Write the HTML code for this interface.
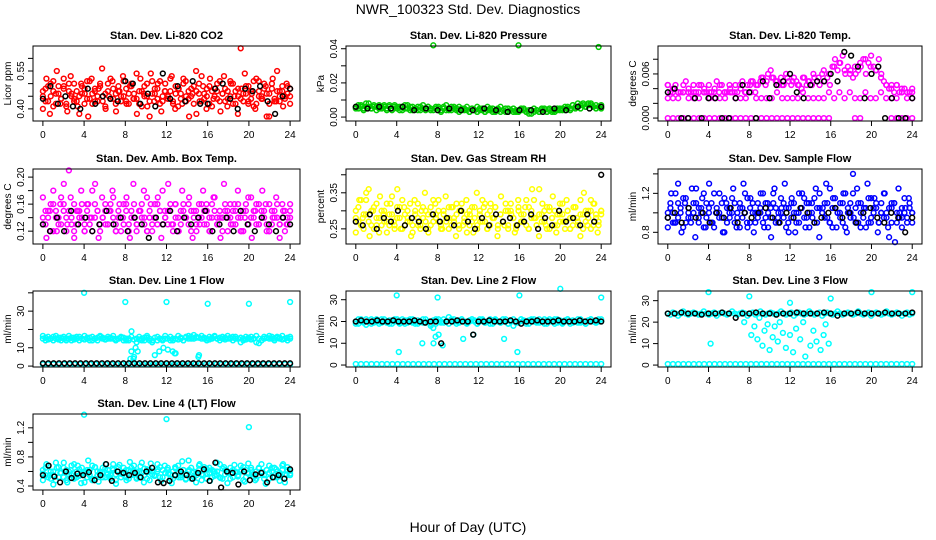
<!DOCTYPE html>
<html><head><meta charset="utf-8">
<style>
html,body{margin:0;padding:0;background:#fff;}
svg{display:block;font-family:"Liberation Sans",Arial,sans-serif;}
</style></head>
<body>
<svg id="chart" width="936" height="540" viewBox="0 0 936 540" xmlns="http://www.w3.org/2000/svg">
<rect width="936" height="540" fill="#fff"/>
<text x="468" y="14" font-size="14" text-anchor="middle">NWR_100323  Std. Dev. Diagnostics</text>
<text x="468" y="532" font-size="14" text-anchor="middle">Hour of Day (UTC)</text>
</svg>
<script>
// ---------------- data ----------------
const xTicks=[0,4,8,12,16,20,24];
const co2Main=[.45,.48,.43,.50,.41,.46,.49,.44,.52,.42,.47,.45,.50,.43,.38,.46,.48,.44,.51,.42,.47,.45,.49,.43,.46,.50,.44,.48,.42,.47,.45,.51,.43,.46,.49,.44,.54,.42,.47,.45,.50,.37,.46,.48,.44,.51,.43,.47,.45,.52,.42,.46,.48,.44,.50,.43,.47,.45,.49,.38,.46,.53,.44,.48,.42,.47,.45,.50,.43,.46,.48,.44,.51,.42,.47,.45,.64,.43,.46,.49,.44,.51,.42,.47,.45,.50,.37,.46,.48,.44,.55,.43,.47,.45,.49,.42];
const co2Second=[.47,.43,.49,.45,.51,.42,.46,.44,.48,.41,.50,.46,.43,.47,.45,.49,.42,.51,.44,.46,.48,.43,.50,.45,.41,.47,.52,.44,.46,.49,.43,.45,.48,.42,.50,.46,.44,.47,.41,.49,.45,.43,.51,.46,.48,.42,.45,.50,.44,.47,.43,.49,.41,.46,.52,.45,.44,.48,.42,.47,.50,.43,.46,.45,.49,.41,.48,.44,.51,.46,.43,.47,.45,.50,.42,.48,.44,.46,.49,.43,.47,.41,.52,.45,.44,.48,.46,.42,.50,.43,.47,.45,.49,.44,.46,.48];
const co2Third=[.40,.52,.38,.47,.55,.42,.49,.39,.53,.44,.41,.50,.46,.37,.52,.43,.48,.56,.40,.45,.51,.39,.47,.53,.42,.49,.44,.38,.52,.46,.41,.54,.43,.50,.39,.47,.45,.53,.40,.48,.42,.51,.37,.46,.55,.43,.49,.40,.52,.44,.47,.39,.53,.41,.50,.45,.38,.48,.54,.42,.46,.40,.51,.44,.49,.37,.52,.43,.47,.41,.50,.45];
const co2Black=[.44,.49,.42,.45,.41,.40,.48,.42,.45,.44,.43,.51,.50,.42,.46,.41,.54,.44,.49,.43,.51,.42,.42,.48,.50,.44,.40,.48,.47,.49,.43,.38,.45,.48];
const presMain=[.006,.005,.007,.004,.006,.008,.005,.006,.004,.007,.005,.006,.005,.007,.004,.006,.005,.006,.004,.007,.005,.006,.004,.005,.006,.004,.007,.005,.006,.004,.042,.005,.006,.004,.005,.007,.004,.006,.005,.004,.006,.005,.004,.006,.003,.005,.004,.006,.004,.005,.003,.006,.004,.005,.003,.004,.006,.004,.005,.003,.004,.005,.003,.042,.004,.005,.003,.004,.002,.005,.004,.003,.005,.004,.003,.005,.004,.003,.004,.005,.004,.006,.005,.004,.007,.006,.008,.005,.007,.006,.008,.007,.006,.005,.041,.007];
const presSecond=[.005,.007,.006,.005,.008,.006,.005,.007,.006,.005,.006,.007,.004,.006,.005,.007,.006,.004,.006,.005,.007,.004,.006,.005,.004,.006,.005,.004,.006,.005,.004,.006,.005,.003,.006,.004,.005,.004,.006,.005,.003,.004,.005,.004,.003,.005,.004,.003,.005,.004,.003,.004,.005,.003,.004,.005,.003,.004,.003,.005,.004,.003,.004,.003,.005,.004,.003,.002,.004,.003,.004,.003,.004,.005,.003,.004,.003,.004,.005,.004,.005,.004,.006,.005,.007,.005,.006,.007,.008,.006,.007,.008,.006,.007,.006,.005];
const presBlack=[.006,.005,.006,.005,.006,.004,.005,.004,.005,.004,.004,.005,.004,.003,.004,.004,.003,.005,.004,.006,.005,.006];
const tempZero=[0,0,0,0,0,0,0,0,0,0,0,0,0,0,0,0,0,0,0,0,0,0,0,0,0,0,0,0,0,0,0,0,null,null,null,null,0,0,null,null,null,null,null,0,0,0,0,0];
const tempLow=[.0027,.0027,.0027,.0035,.0027,.0027,.0027,.0035,.0027,.0027,.0027,.0027,.0035,.0027,.0027,.0027,.0035,.0027,.0027,.0027,.0027,.0035,.0027,.0027,.0027,.0027,.0035,.0027,.0027,.0027,.0027,.0035,.0027,.0035,.0027,.0035,.0027,.0027,.0035,.0027,.0027,.0035,.0027,.0027,.0027,.0035,.0027,.0027];
const tempHigh=[.0045,.0035,.0035,.0045,.0035,.0035,.0035,.0050,.0035,.0035,.0045,.0035,.0035,.0045,.0035,.0035,.0045,.0035,.0035,.0050,.0035,.0045,.0035,.0035,.0045,.0035,.0035,.0035,.0045,.0050,.0035,.0045,.0045,.0050,.0035,.0045,.0050,.0055,.0045,.0060,.0065,.0055,.0050,.0045,.0055,.0045,.0060,.0050,.0045,.0055,.0050,.0045,.0040,.0055,.0045,.0050,.0045,.0055,.0050,.0045,.0060,.0050,.0055,.0045,.0070,.0080,.0065,.0075,.0085,.0060,.0070,.0065,.0055,.0060,.0065,.0070,.0080,.0060,.0075,.0085,.0070,.0065,.0080,.0060,.0050,.0045,.0040,.0045,.0035,.0045,.0035,.0035,.0040,.0035,.0035,.0035];
const tempMid=[.0045,.0040,.0035,.0045,.0040,.0035,.0045,.0040,.0035,.0040,.0045,.0035,.0040,.0045,.0040,.0035,.0050,.0045,.0055,.0050,.0055,.0050,.0045,.0055,.0050,.0045,.0055,.0050,.0060,.0055,.0065,.0060,.0070,.0075,.0065,.0060,.0070,.0075,.0080,.0070,.0065,.0055,.0045,.0040,.0045,.0040,.0035,.0040];
const tempBlack=[.0035,.0040,0,0,.0027,0,.0027,.0027,0,0,.0027,.0045,.0035,0,.0050,.0027,.0045,.0050,.0060,.0035,.0027,.0045,.0050,.0050,.0060,.0050,.0090,.0085,.0070,.0027,.0060,.0070,0,.0027,0,0,.0027];
const ambMain=[.14,.13,.15,.12,.16,.14,.13,.17,.15,.12,.21,.14,.16,.13,.15,.14,.12,.16,.13,.18,.14,.15,.12,.14,.16,.13,.15,.17,.13,.14,.12,.16,.15,.13,.14,.16,.12,.15,.14,.13,.17,.14,.12,.16,.13,.15,.18,.14,.13,.15,.12,.16,.14,.13,.15,.14,.16,.12,.15,.13,.14,.16,.13,.15,.12,.14,.17,.13,.15,.14,.16,.12,.14,.15,.13,.16,.14,.12,.15,.13,.17,.14,.16,.13,.15,.14,.12,.16,.13,.15,.14,.13,.16,.12,.14,.15];
const ambSecond=[.13,.15,.14,.16,.12,.15,.14,.13,.16,.14,.15,.13,.12,.15,.14,.16,.13,.15,.14,.12,.16,.15,.13,.14,.15,.13,.16,.14,.12,.15,.14,.13,.16,.12,.15,.14,.13,.15,.16,.14,.12,.15,.13,.14,.16,.15,.13,.14,.15,.16,.13,.14,.12,.15,.16,.14,.13,.15,.14,.12,.16,.14,.15,.13,.14,.16,.15,.13,.14,.12,.15,.14,.16,.13,.15,.14,.12,.15,.16,.13,.14,.15,.13,.16,.14,.15,.13,.12,.15,.14,.16,.13,.14,.15,.13,.14];
const ambThird=[.17,.11,.15,.18,.12,.16,.19,.13,.17,.11,.15,.18,.12,.16,.14,.19,.11,.17,.13,.15,.18,.12,.16,.14,.17,.11,.19,.13,.15,.18,.12,.16,.14,.17,.11,.15,.19,.13,.16,.12,.18,.14,.17,.11,.15,.13,.18,.16,.12,.17,.14,.11,.19,.15,.13,.16,.18,.12,.14,.17,.11,.15,.13,.18,.16,.12,.14,.17,.11,.15,.13,.16];
const ambBlack=[.13,.12,.14,.12,.15,.13,.14,.12,.13,.15,.13,.14,.12,.14,.13,.11,.14,.13,.15,.12,.14,.13,.14,.15,.12,.13,.14,.12,.15,.13,.12,.14,.13,.12,.14,.13];
const rhMain=[.30,.27,.33,.25,.29,.36,.26,.31,.28,.24,.30,.27,.32,.26,.29,.25,.31,.28,.33,.26,.30,.27,.24,.29,.32,.26,.28,.30,.25,.31,.27,.29,.33,.26,.30,.28,.25,.31,.27,.29,.26,.32,.28,.24,.30,.27,.31,.26,.29,.33,.27,.25,.30,.28,.31,.26,.29,.27,.32,.25,.30,.28,.26,.31,.29,.27,.33,.25,.30,.28,.26,.36,.29,.27,.31,.25,.28,.30,.26,.32,.29,.27,.30,.25,.28,.31,.26,.33,.29,.27,.30,.25,.32,.28,.26,.30];
const rhSecond=[.28,.31,.26,.29,.33,.27,.30,.25,.32,.28,.26,.30,.27,.29,.34,.26,.28,.31,.25,.29,.27,.32,.26,.30,.28,.25,.31,.27,.29,.26,.33,.28,.30,.25,.29,.27,.31,.26,.28,.32,.25,.30,.27,.29,.26,.31,.28,.25,.30,.27,.32,.29,.26,.28,.31,.25,.29,.27,.30,.26,.32,.28,.25,.30,.27,.29,.26,.31,.28,.33,.26,.29,.27,.30,.25,.31,.28,.26,.29,.27,.32,.25,.30,.28,.26,.31,.27,.29,.25,.30,.28,.33,.26,.29,.27,.30];
const rhThird=[.24,.33,.28,.35,.23,.30,.26,.34,.29,.24,.32,.27,.36,.25,.31,.28,.23,.33,.26,.30,.35,.24,.29,.32,.27,.25,.34,.28,.31,.23,.30,.26,.33,.29,.24,.35,.27,.31,.25,.32,.28,.23,.34,.26,.30,.29,.24,.33,.27,.31,.25,.36,.28,.23,.32,.26,.30,.34,.24,.29,.27,.33,.25,.31,.28,.23,.35,.26,.30,.32,.24,.29];
const rhBlack=[.27,.26,.29,.25,.28,.27,.30,.26,.28,.27,.25,.29,.27,.28,.26,.30,.27,.25,.28,.26,.29,.27,.28,.26,.27,.29,.25,.28,.26,.30,.27,.28,.26,.29,.27,.40];
const flowMain=[1.0,1.1,.9,1.2,.95,1.05,.85,1.15,1.0,.9,1.1,1.25,.95,1.0,.85,1.1,1.05,.9,1.2,1.0,.95,1.1,.8,1.05,1.0,1.15,.9,1.0,1.1,.95,1.2,.85,1.05,1.0,.9,1.1,1.0,1.2,.95,.85,1.05,1.1,.9,1.0,1.15,.95,1.05,.8,1.1,1.0,.9,1.2,1.05,.95,1.1,.85,1.0,1.15,.9,1.05,1.0,1.1,.95,1.25,.85,1.05,1.0,1.1,.9,1.2,1.0,.95,1.4,1.05,.9,1.1,1.0,.85,1.15,.95,1.05,1.1,.9,1.0,1.2,.95,.75,1.05,1.1,.9,1.0,.85,1.15,.95,1.05,1.0];
const flowSecond=[.95,1.05,1.0,.9,1.1,1.0,1.15,.9,1.05,.95,1.0,1.1,.9,1.05,1.2,.95,1.0,1.1,.85,1.05,1.0,.95,1.15,.9,1.05,1.0,1.1,.95,.85,1.05,1.0,1.15,.9,1.1,1.0,.95,1.05,.9,1.1,1.0,.95,1.2,1.05,.9,1.0,1.1,.85,1.05,.95,1.1,1.0,.9,1.05,1.15,.95,1.0,1.1,.9,1.05,1.2,1.0,.95,1.1,.9,1.05,1.15,1.0,.95,1.1,.85,1.05,1.0,1.2,.9,1.1,1.0,.95,1.05,.9,1.15,1.0,1.05,.9,1.1,.95,1.0,1.05,.9,1.1,1.0,.95,1.05,1.0,.9,1.1,1.0];
const flowThird=[.85,1.2,.9,1.3,.8,1.1,.95,1.25,.75,1.05,1.15,.85,1.3,.9,1.0,1.2,.8,1.1,.95,1.25,.85,1.05,1.3,.9,1.15,.8,1.0,1.2,.85,1.1,.75,1.25,.95,1.05,1.3,.9,1.15,.8,1.0,1.2,.85,1.1,.95,1.25,.75,1.05,1.3,.9,1.15,.85,1.0,1.2,.8,1.1,.95,1.25,.85,1.05,1.3,.9,1.15,.8,1.0,1.2,.85,1.1,.7,1.25,.95,1.05,1.15,.9];
const flowBlack=[.95,1.0,.9,1.05,.95,1.0,.9,1.0,.95,1.05,.9,1.0,.95,1.0,1.05,.95,.9,1.0,.95,1.05,1.0,.9,.95,1.0,1.05,.95,1.0,.9,1.0,1.05,.95,.9,1.0,.95,.8,.95];
const line1Main=[15,15.5,14.5,15,16,15,14.5,15.5,15,14,15,15.5,14.5,15,16,15,14.5,15,15.5,14,15,15.5,16,15,14.5,15,15.5,15,14.5,15,15.5,14,15,14,8,5,13,14.5,15,14,15.5,14,13,6,14,15,14.5,15,9,14,15,7,14.5,15,14,15.5,15,16,15,15.5,6,15,15.5,15,14.5,15,16,15,15.5,15,14.5,15,15.5,16,15,15,15.5,15,16,15,14.5,15,13,12.5,14,15,15.5,15,16,15,15.5,15,14.5,15,15.5,15];
const line1Second=[16.5,14,16,15,14,16.5,15.5,14,16,15,16.5,14,15.5,16,14,15,16.5,15.5,14,16,15,14,16.5,15.5,14.5,16,15,16.5,14,15,16,15.5,14,15,16,14.5,15,16,14,15.5,16.5,15,14,15.5,16,15,14,16.5,15,16,14,15,16.5,15.5,14,16,16.5,15,17,16,15.5,16.5,15,14,16,15.5,16.5,15,14,16,15.5,16.5,15,14,16,15,13,14,14.5,15.5,16,15,16.5,15,14,16,15.5,16.5,15,14,16,15.5,16.5,15,14,16];
const line1OutHours=[4,8,12,16,20,24,8.6,9,9.2,11.3,11.7,12.6,12.8,15.1,8.5,8.8];
const line1OutVals=[40,35,35,34,34,35,19,10,8,8,10,8,7,5,4,4];
const line1Low=[1,1,1,1,1,1,1,1,1,1,1,1,1,1,1,1,1,1,1,1,1,1,1,1,1,1,1,1,1,1,1,1,1,1,1,1,1,1,1,1,1,1,1,1,1,1,1,1];
const line1Black=[1.5,1.5,1.5,1.5,1.5,1.5,1.5,1.5,1.5,1.5,1.5,1.5,1.5,1.5,1.5,1.5,1.5,1.5,1.5,1.5,1.5,1.5,1.5,1.5,1.5,1.5,1.5,1.5,1.5,1.5,1.5,1.5,1.5,1.5,1.5,1.5,1.5,1.5,1.5,1.5,1.5,1.5,1.5,1.5,1.5,1.5,1.5];
const line2Main=[20,19,21,20,18.5,20,21,19.5,20,19,21,20,19.5,20.5,19,20,21,19.5,20,19,20.5,21,19.5,20,19,20,21,19.5,20,18,17,19,21,20,19.5,20,22,21,20,19,20.5,21,20,19.5,20,21,20.5,19,20,21,19.5,20,19,20.5,21,20,19.5,20,21,19,20,18,19.5,20,21,20.5,20,19,20.5,21,20,19.5,20,21,19,20,20.5,21,19.5,20,19,20.5,21,20,19.5,20,21,19.5,20,19,20.5,21,20,19.5,20,21];
const line2Second=[19,21,20,19.5,21,20,19,20.5,21,20,19.5,21,20,19,20.5,21,20,19,21,20.5,19.5,20,21,19,20.5,20,19.5,21,20,19,20.5,21,20,19.5,21,20,19,20.5,21,20,19.5,21,20,19,20.5,21,20,19,21,20.5,19.5,20,21,19,20.5,20,19.5,21,20,19,20.5,21,20,19.5,21,20,19,20.5,21,20,19.5,21,20,19,20.5,21,20,19,21,20.5,19.5,20,21,19,20.5,20,19.5,21,20,19,20.5,21,20,19.5,21,20];
const line2OutHours=[4,8,16,20,24,7.6,7.8,8.1,8.5,10.5,11.5,14.5,15.8,4.2,6.5];
const line2OutVals=[32,31,32,35,31,10,13,14,9,12,14,12,6,6,10];
const line2Low=[.5,.5,.5,.5,.5,.5,.5,.5,.5,.5,.5,.5,.5,.5,.5,.5,.5,.5,.5,.5,.5,.5,.5,.5,.5,.5,.5,.5,.5,.5,.5,.5,.5,.5,.5,.5,.5,.5,.5,.5,.5,.5,.5,.5,.5,.5,.5,.5];
const line2Black=[20,20.5,20,20,20.5,20,20,20.5,20,20,20,20.5,20,19.5,20,20,10,20,20,20.5,20,20,14,20,20,20.5,20,20,20,20.5,20,19,20,20,20.5,20,20,20,20.5,20,20,20,20.5,20,20,20.5,20];
const line3Main=[24,23.5,24.5,24,23,24,25,24,23.5,24,24.5,24,23.5,24,25,24,23.5,24,24.5,23,24,24.5,24,23.5,24,25,24,23.5,24,24.5,24,23,24,24.5,23.5,24,25,24,23.5,24,24.5,24,23.5,24,25,24,23.5,24,24.5,23,24,24.5,24,23.5,24,25,24,23.5,24,24.5,23,24,24.5,24,23.5,24,25,24,23.5,24,24.5,24,23.5,24,25,24,23.5,24,24.5,23,24,24.5,24,23.5,24,25,24,23.5,24,24.5,24,23,24,24.5,23.5,24];
const line3OutHours=[4.2,7.5,8.2,8.5,8.8,9,9.3,9.5,9.8,10,10.3,10.5,10.8,11,11.3,11.6,12,12.3,12.6,13,13.3,13.5,14,14.3,14.6,15,15.3,15.5,15.8,4,20,24,8,12,16];
const line3OutVals=[10,20,14,18,12,22,9,16,19,7,13,18,11,20,15,8,14,6,17,12,20,4,9,16,11,7,14,19,10,34,34,34,32,29,31];
const line3Low=[.5,.5,.5,.5,.5,.5,.5,.5,.5,.5,.5,.5,.5,.5,.5,.5,.5,.5,.5,.5,.5,.5,.5,.5,.5,.5,.5,.5,.5,.5,.5,.5,.5,.5,.5,.5,.5,.5,.5,.5,.5,.5,.5,.5,.5,.5,.5,.5];
const line3Black=[24,24,24.5,24,24,23.5,24,24,24.5,24,22,24,24,24.5,24,24,23.5,24,24,24.5,24,24,24,24.5,24,23,24,24,24.5,24,24,24,24.5,24,24,24,24.5];
const line4Main=[.62,.55,.68,.50,.60,.72,.52,.58,.65,.48,.60,.55,.70,.52,.63,.57,.45,.62,.55,.68,.50,.60,.58,.65,.52,.62,.55,.70,.48,.60,.57,.65,.52,.62,.55,.68,.50,.60,.72,.55,.63,.48,.60,.55,.70,.52,.62,.58,.65,.50,.60,.55,.68,.52,.62,.57,.75,.50,.60,.55,.68,.48,.62,.57,.65,.52,.60,.55,.70,.50,.62,.58,.65,.52,.60,.55,.68,.48,.62,.57,.65,.52,.60,.55,.70,.50,.62,.58,.65,.52,.60,.55,.68,.45,.62,.57];
const line4Second=[.57,.65,.52,.60,.55,.48,.66,.58,.52,.62,.56,.68,.50,.60,.54,.65,.58,.52,.62,.48,.66,.55,.60,.52,.64,.57,.50,.62,.56,.66,.52,.58,.62,.50,.65,.56,.60,.52,.58,.64,.50,.62,.56,.54,.60,.66,.52,.58,.62,.56,.50,.64,.58,.55,.62,.50,.60,.65,.52,.58,.62,.56,.66,.50,.58,.62,.54,.60,.52,.64,.56,.60,.50,.62,.58,.54,.60,.66,.52,.58,.62,.56,.50,.64,.58,.55,.62,.50,.60,.65,.52,.58,.62,.56,.66,.55];
const line4Third=[.48,.70,.55,.42,.65,.58,.72,.45,.62,.52,.68,.44,.60,.75,.50,.66,.46,.58,.70,.53,.64,.43,.69,.56,.48,.73,.61,.51,.67,.45,.59,.71,.54,.63,.47,.68,.57,.44,.66,.52,.74,.49,.62,.58,.45,.70,.55,.64,.47,.60,.72,.51,.66,.44,.58,.69,.53,.62,.46,.71,.56,.48,.65,.59,.43,.68,.52,.63,.47,.70,.55,.61];
const line4OutHours=[4,12,20];
const line4OutVals=[1.38,1.32,1.21];
const line4Black=[.55,.68,.53,.45,.60,.51,.57,.55,.59,.48,.55,.70,.47,.60,.58,.55,.58,.52,.60,.65,.45,.44,.47,.55,.60,.55,.50,.58,.63,.47,.72,.38,.60,.58,.42,.60,.48,.56,.58,.45,.52,.55,.50,.63];

const panels=[
 {key:'co2',title:'Stan. Dev. Li-820 CO2',ylab:'Licor ppm',col:0,row:0,ymin:.352,ymax:.649,ticks:[.40,.45,.50,.55,.60],labels:['0.40','','','0.55',''],
  series:[{v:co2Main,c:'#ff0000'},{v:co2Second,c:'#ff0000'},{v:co2Third,c:'#ff0000'},{v:co2Black,c:'#000'}]},
 {key:'pressure',title:'Stan. Dev. Li-820 Pressure',ylab:'kPa',col:1,row:0,ymin:-.0023,ymax:.0416,ticks:[0,.01,.02,.03,.04],labels:['0.00','','0.02','','0.04'],
  series:[{v:presMain,c:'#00cc00'},{v:presSecond,c:'#00cc00'},{v:presBlack,c:'#000'}]},
 {key:'temp',title:'Stan. Dev. Li-820 Temp.',ylab:'degrees C',col:2,row:0,ymin:-.0004,ymax:.0098,ticks:[0,.002,.004,.006,.008],labels:['0.000','','','0.006',''],
  series:[{v:tempZero,c:'#ff00ff'},{v:tempLow,c:'#ff00ff'},{v:tempHigh,c:'#ff00ff'},{v:tempMid,c:'#ff00ff'},{v:tempBlack,c:'#000'}]},
 {key:'ambbox',title:'Stan. Dev. Amb. Box Temp.',ylab:'degrees C',col:0,row:1,ymin:.101,ymax:.212,ticks:[.12,.14,.16,.18,.20],labels:['0.12','','0.16','','0.20'],
  series:[{v:ambMain,c:'#ff00ff'},{v:ambSecond,c:'#ff00ff'},{v:ambThird,c:'#ff00ff'},{v:ambBlack,c:'#000'}]},
 {key:'rh',title:'Stan. Dev. Gas Stream RH',ylab:'percent',col:1,row:1,ymin:.208,ymax:.416,ticks:[.25,.30,.35,.40],labels:['0.25','','0.35',''],
  series:[{v:rhMain,c:'#ffff00'},{v:rhSecond,c:'#ffff00'},{v:rhThird,c:'#ffff00'},{v:rhBlack,c:'#000'}]},
 {key:'sampleflow',title:'Stan. Dev. Sample Flow',ylab:'ml/min',col:2,row:1,ymin:.68,ymax:1.45,ticks:[.8,1.0,1.2,1.4],labels:['0.8','','1.2',''],
  series:[{v:flowMain,c:'#0000ff'},{v:flowSecond,c:'#0000ff'},{v:flowThird,c:'#0000ff'},{v:flowBlack,c:'#000'}]},
 {key:'line1',title:'Stan. Dev. Line 1 Flow',ylab:'ml/min',col:0,row:2,ymin:-.5,ymax:41,ticks:[0,10,20,30,40],labels:['0','10','','30',''],
  series:[{v:line1Low,c:'#00ffff'},{v:line1Main,c:'#00ffff'},{v:line1Second,c:'#00ffff'},{v:line1OutVals,h:line1OutHours,c:'#00ffff'},{v:line1Black,c:'#000'}]},
 {key:'line2',title:'Stan. Dev. Line 2 Flow',ylab:'ml/min',col:1,row:2,ymin:-.9,ymax:34,ticks:[0,10,20,30],labels:['0','10','20','30'],
  series:[{v:line2Low,c:'#00ffff'},{v:line2Main,c:'#00ffff'},{v:line2Second,c:'#00ffff'},{v:line2OutVals,h:line2OutHours,c:'#00ffff'},{v:line2Black,c:'#000'}]},
 {key:'line3',title:'Stan. Dev. Line 3 Flow',ylab:'ml/min',col:2,row:2,ymin:-.9,ymax:34.5,ticks:[0,10,20,30],labels:['0','10','20','30'],
  series:[{v:line3Low,c:'#00ffff'},{v:line3Main,c:'#00ffff'},{v:line3OutVals,h:line3OutHours,c:'#00ffff'},{v:line3Black,c:'#000'}]},
 {key:'line4',title:'Stan. Dev. Line 4 (LT) Flow',ylab:'ml/min',col:0,row:3,ymin:.345,ymax:1.39,ticks:[.4,.6,.8,1.0,1.2],labels:['0.4','','0.8','','1.2'],
  series:[{v:line4Main,c:'#00ffff'},{v:line4Second,c:'#00ffff'},{v:line4Third,c:'#00ffff'},{v:line4OutVals,h:line4OutHours,c:'#00ffff'},{v:line4Black,c:'#000'}]}
];

// ---------------- drawing ----------------
const NS='http://www.w3.org/2000/svg';
const svg=document.getElementById('chart');
const colX=[[33,300],[346,611],[658,922]];
const rowY=[[46,121],[169,244],[291,367],[414,490]];
function mk(tag,attrs,parent){const e=document.createElementNS(NS,tag);for(const k in attrs)e.setAttribute(k,attrs[k]);parent.appendChild(e);return e;}

panels.forEach(p=>{
  const [L,R]=colX[p.col],[T,B]=rowY[p.row];
  const xs=h=>L+(h+0.96)/25.92*(R-L);
  const ys=v=>B-(v-p.ymin)/(p.ymax-p.ymin)*(B-T);
  const g=mk('g',{},svg);
  
  
  const t=mk('text',{x:(L+R)/2,y:T-7,'font-size':11,'font-weight':'bold','text-anchor':'middle'},g);
  t.textContent=p.title;
  
  
  const pg=mk('g',{fill:'none','stroke-width':1.5},g);
  
  
  p.series.forEach(s=>{
    const n=s.v.length;
    s.v.forEach((v,i)=>{
      if(v===null)return;
      const h=s.h?s.h[i]:(n===1?0:i*24/(n-1));
      const c=mk('circle',{cx:xs(h).toFixed(1),cy:ys(v).toFixed(1),r:2.4,stroke:s.c},pg);
      
      
    });
  });
  const box=mk('rect',{x:L,y:T,width:R-L,height:B-T,fill:'none',stroke:'#000','stroke-width':1},g);
  
  
  const xa=mk('g',{},g);
  
  
  mk('line',{x1:xs(0),x2:xs(24),y1:B,y2:B,stroke:'#000'},xa);
  xTicks.forEach(tk=>{
    mk('line',{x1:xs(tk),x2:xs(tk),y1:B,y2:B+5,stroke:'#000'},xa);
    const tl=mk('text',{x:xs(tk),y:B+17,'font-size':10,'text-anchor':'middle'},xa);
    tl.textContent=tk;
    
    
  });
  const ya=mk('g',{},g);
  
  
  const tv=p.ticks;
  mk('line',{x1:L,x2:L,y1:ys(tv[0]),y2:ys(tv[tv.length-1]),stroke:'#000'},ya);
  tv.forEach((tk,i)=>{
    const y=ys(tk);
    mk('line',{x1:L-5,x2:L,y1:y,y2:y,stroke:'#000'},ya);
    if(p.labels[i]){
      const tl=mk('text',{x:L-9,y:y,'font-size':10,'text-anchor':'middle',transform:`rotate(-90 ${L-9} ${y})`},ya);
      tl.textContent=p.labels[i];
      
      
    }
  });
  const yl=mk('text',{x:L-22,y:(T+B)/2,'font-size':10,'text-anchor':'middle',transform:`rotate(-90 ${L-22} ${(T+B)/2})`},ya);
  yl.textContent=p.ylab;
  
  
});
</script>
</body></html>
